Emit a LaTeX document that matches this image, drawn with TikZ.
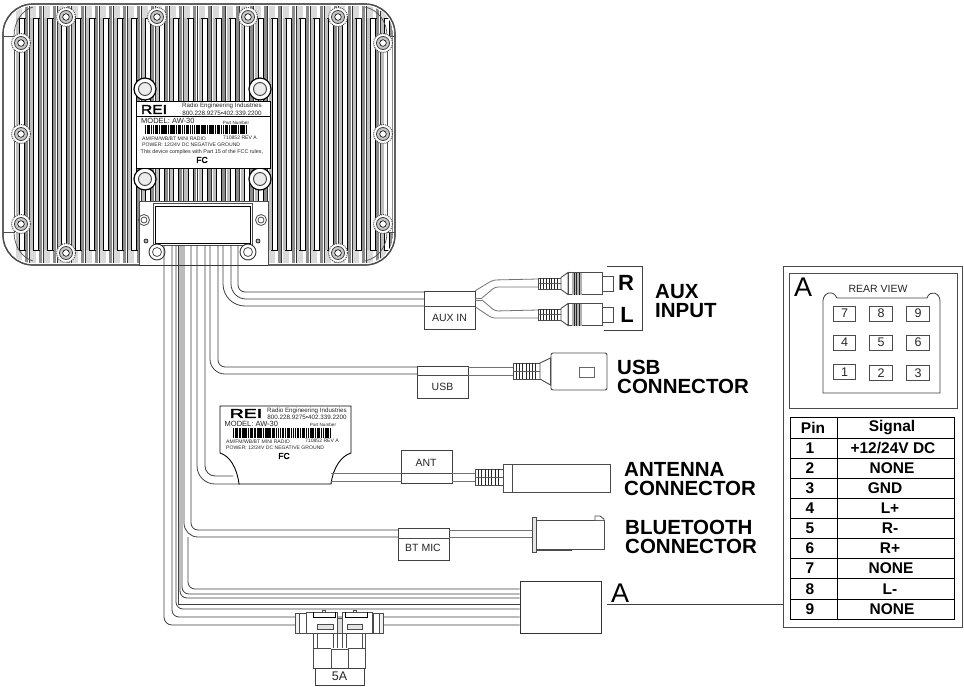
\documentclass[tikz,border=0pt]{standalone}
\usepackage{fontspec}
\setmainfont{Liberation Sans}
\newfontfamily\logofont[FakeBold=2.5]{Liberation Sans}
\newcommand{\pxs}[1]{\fontsize{#1}{#1}\selectfont}
\newcommand{\bars}[5]{% x0 y0 width height count
  \foreach \i in {0,...,#5}{
    \pgfmathsetmacro{\bx}{#1+#3*\i/(#5+1)}
    \pgfmathsetmacro{\bw}{#3/(#5+1)*(0.35+0.2*mod(\i*7,4))}
    \fill[black] (\bx,#2) rectangle (\bx+\bw,#2+#4);
  }}
\newcommand{\relief}[4]{% x0 x1 y0 y1
  \draw[conn,fill=white] (#1,#3) rectangle (#2,#4);
  \foreach \t in {0.12,0.24,0.36,0.48,0.6,0.72,0.84}{
    \draw[black!85,line width=0.9pt] ({#1+(#2-#1)*\t},#3) -- ({#1+(#2-#1)*\t},#4);}
  \draw[gray!70!black,line width=0.6pt] (#1,{(#3+#4)/2}) -- (#2,{(#3+#4)/2});}
\newcommand{\rcaplug}[1]{%
  \relief{538}{561}{#1-5.5}{#1+5.5}
  \draw[conn,fill=white] (561,#1-6) -- (568,#1-11) -- (568,#1+11) -- (561,#1+6) -- cycle;
  \draw[conn,fill=white] (568,#1-11) rectangle (602,#1+11);
  \fill[gray!60] (572,#1-11) rectangle (582,#1+11);
  \foreach \q in {574,576.5,579}{\draw[black!85,line width=0.9pt] (\q,#1-11) -- (\q,#1+11);}
  \draw[conn,fill=white] (602,#1-7.5) rectangle (613,#1+7.5);}
\newcommand{\bossS}[2]{%
  \draw[gray!60!black,line width=1pt,densely dotted,fill=white] (#1,#2) circle[radius=9.5pt];
  \draw[black!75,line width=0.8pt,fill=gray!45] (#1,#2) circle[radius=6.5pt];
  \draw[black,line width=0.6pt,fill=white] (#1,#2) circle[radius=3.3pt];}
\newcommand{\bossL}[2]{%
  \draw[black,line width=1.2pt,fill=white] (#1,#2) circle[radius=11pt];
  \draw[black!75,line width=0.9pt,fill=gray!15] (#1,#2) circle[radius=6.5pt];}
\tikzset{
  wire/.style={draw=black!75,line width=0.8pt},
  greywire/.style={draw=black!55,line width=0.8pt,rounded corners=3pt},
  conn/.style={draw=black!70,line width=0.9pt},
  tagbox/.style={draw=black!75,line width=0.8pt,fill=white,inner sep=0pt,minimum width=51pt},
  tagtext/.style={inner sep=0pt,text=black!85,font=\pxs{10.5}},
  head/.style={inner sep=0pt,font=\bfseries\fontsize{20.5}{18.5}\selectfont,align=left,anchor=north west},
  cell/.style={inner sep=0pt,font=\bfseries\pxs{15.5}},
  pinbox/.style={draw=black!70,line width=0.8pt,minimum width=22.5pt,minimum height=15pt,inner sep=0pt,font=\pxs{12.5},text=black!85},
  lbl/.style={inner sep=0pt,text=black!85},
}
\begin{document}
\begin{tikzpicture}[x=1pt,y=-1pt]
\useasboundingbox (0,0) rectangle (964,686);
\fill[white] (0,0) rectangle (964,686);

% radio body
\draw[black!70,line width=1.2pt,fill=white,rounded corners=30pt] (3,4) rectangle (395,265);
\begin{scope}
\clip[rounded corners=28pt] (5,6) rectangle (393,263);
\foreach \i in {0,...,26}{
  \pgfmathsetmacro{\fx}{16+14.04*\i}
  \fill[gray!50] (\fx,6) rectangle (\fx+3.5,263);
  \fill[gray!30] (\fx,6) rectangle (\fx+6,18);
  \fill[gray!30] (\fx,250) rectangle (\fx+6,263);
  \fill[black!45] (\fx+9,6) rectangle (\fx+12,263);
  \draw[black,line width=0.9pt] (\fx+3.5,18) -- (\fx+3.5,250);
  \draw[black,line width=0.9pt] (\fx+8.5,18) -- (\fx+8.5,250);
  \draw[black,line width=0.7pt] (\fx+2.5,18) -- (\fx+9.5,18);
  \draw[black,line width=0.7pt] (\fx+2.5,250) -- (\fx+9.5,250);
  \draw[black!80,line width=0.5pt] (\fx+13,6) -- (\fx+13,263);
}
\end{scope}
\fill[white] (6,36) rectangle (15,232);
\fill[white] (384,36) rectangle (392,232);
\draw[black!70,line width=0.7pt] (14,36) -- (14,232) (387,36) -- (387,232);
\draw[black!70,line width=0.7pt] (3,36) -- (15,36) (3,232) -- (15,232) (385,36) -- (395,36) (385,232) -- (395,232);
\draw[black!70,line width=0.7pt] (14,36) .. controls (14,22) and (22,10) .. (33,7);
\draw[black!70,line width=0.7pt] (14,232) .. controls (14,246) and (22,258) .. (33,261);
\draw[black!70,line width=0.7pt] (387,36) .. controls (387,22) and (379,10) .. (365,7);
\draw[black!70,line width=0.7pt] (387,232) .. controls (387,246) and (379,258) .. (365,261);
\draw[black!70,line width=1.2pt,rounded corners=30pt] (3,4) rectangle (395,265);

\foreach \x in {66,157,248,338}{\bossS{\x}{17}}
\foreach \x in {66,338}{\bossS{\x}{253}}
\foreach \x in {21,383}{\foreach \y in {43,134,224}{\bossS{\x}{\y}}}

% connector plate
\fill[white] (139,201) rectangle (268,266);
\draw[black!70,line width=0.8pt] (139,201) -- (268,201) (139,201) -- (139,265) (268,201) -- (268,265);
\draw[black!80,line width=1pt] (139,265) -- (268,265);
\draw[black!70,line width=0.8pt,fill=white] (153,203) rectangle (252,245);
\draw[black,line width=0.9pt] (155,206) rectangle (250,243);
\foreach \x in {144,261}{\draw[black!70,line width=0.8pt] (\x,220) circle[radius=5.5pt] (\x,220) circle[radius=3pt];}
\foreach \x in {146,258}{\draw[black,fill=gray!60,line width=0.6pt] (\x,241) circle[radius=2pt];}

% mounting bosses and label 1
\foreach \x in {145,260}{\foreach \y in {89,179}{\bossL{\x}{\y}}}
\foreach \x in {157,248}{
  \draw[black!80,line width=0.9pt,fill=white] (\x,252) circle[radius=8pt];
  \draw[black!70,line width=0.8pt] (\x,252) circle[radius=4.5pt];}

% boxes and text of label 1
\node[draw=black,line width=0.9pt,fill=white,minimum width=134pt,minimum height=67pt,inner sep=0pt] (topLabel) at (203,134.5) {};
\draw[black,line width=0.6pt] (136,116) -- (270,116);
\node[lbl,text=black,font=\logofont\pxs{13},xscale=1.2] (logoA) at (154,109.5) {REI};
\node[lbl,font=\pxs{6.2}] (nameA) at (222,106) {Radio Engineering Industries};
\node[lbl,font=\pxs{6.3}] (telA) at (222,113) {800.228.9275•402.339.2200};
\node[lbl,font=\pxs{7.5},anchor=west] (modelA) at (141,121) {MODEL: AW-30};
\node[lbl,font=\pxs{4.6}] (partA) at (236,122.5) {Part Number};
\bars{145}{125}{103}{9}{52}
\node[lbl,font=\pxs{5.1},anchor=west] (amA) at (142,138.5) {AM/FM/WB/BT MINI RADIO};
\node[lbl,font=\pxs{5.1}] (revA) at (240,138) {710852 REV A};
\node[lbl,font=\pxs{5.1},anchor=west] (powA) at (142,144.5) {POWER: 12/24V DC NEGATIVE GROUND};
\node[lbl,font=\pxs{5.4},anchor=west] (fccA) at (140.5,152) {This device complies with Part 15 of the FCC rules,};
\node[lbl,text=black,font=\logofont\pxs{8.5}] (fcA) at (202,160) {FC};

% wires: aux
\foreach \x/\y/\r in {238/292/7,231/299/15,223/306/22}{
  \draw[wire,rounded corners=\r pt] (\x,245) |- (424,\y);}
% wires: usb
\draw[wire,rounded corners=7pt] (218,245) |- (417,367);
\draw[wire,rounded corners=15pt] (210,245) |- (417,374);
% wires: antenna
\draw[wire,rounded corners=10pt] (205,245) |- (233,476);
\draw[wire,rounded corners=18pt] (197,245) |- (240,484);
% wires: bluetooth
\draw[wire,rounded corners=7pt] (191,245) |- (398,530);
\draw[wire,rounded corners=14pt] (184,245) |- (398,537);

% tag boxes
\node[tagbox,minimum height=38pt] (auxBox) at (449.5,310) {};
\draw[black!70,line width=0.8pt] (auxBox.west |- 0,306.5) -- (auxBox.east |- 0,306.5);
\node[tagtext] (auxTxt) at (449.5,317.5) {AUX IN};
\node[tagbox,minimum height=32pt] (usbBox) at (442.5,382) {};
\draw[black!70,line width=0.8pt] (usbBox.west |- 0,375.5) -- (usbBox.east |- 0,375.5);
\node[tagtext] (usbTxt) at (442.5,386.5) {USB};
\node[tagbox,minimum height=33pt] (antBox) at (426.5,466.5) {};
\draw[black!70,line width=0.8pt] (antBox.west |- 0,473) -- (antBox.east |- 0,473);
\node[tagtext] (antTxt) at (426,463) {ANT};
\node[tagbox,minimum height=32pt] (btBox) at (423.5,544) {};
\draw[black!70,line width=0.8pt] (btBox.west |- 0,538) -- (btBox.east |- 0,538);
\node[tagtext] (btTxt) at (423,548) {BT MIC};

% aux Y split
\draw[greywire] (auxBox.north east) -- (493,280) -- (538,279);
\draw[greywire] (482,298) -- (495,287) -- (538,287);
\draw[greywire] (482,300) -- (495,311) -- (538,310);
\draw[greywire] (auxBox.east |- 0,307) -- (492,318) -- (538,318);
\draw[greywire] (auxBox.east |- 0,298) -- (482,298) (auxBox.east |- 0,300) -- (482,300);
\rcaplug{283.5}
\rcaplug{314.5}
\coordinate (brA) at (607,266);\coordinate (brB) at (642,266);\coordinate (brC) at (642,330);\coordinate (brD) at (604,330);
\draw[black!75,line width=0.8pt] (brA) -- (brB) -- (brC) -- (brD);
\node[inner sep=0pt,font=\bfseries\pxs{22}] (rTxt) at (626,283) {R};
\node[inner sep=0pt,font=\bfseries\pxs{22}] (lTxt) at (627,315) {L};
\node[head] (auxHead) at (655,284.5) {AUX\\INPUT};

% usb connector
\draw[greywire] (usbBox.east |- 0,367) -- (513,367);
\draw[greywire] (usbBox.east |- 0,375) -- (513,375);
\relief{513}{540}{363}{379}
\node[conn,fill=white,rounded corners=2pt,minimum width=56pt,minimum height=37pt,inner sep=0pt] (usbPlug) at (579,371.5) {};
\draw[conn,fill=white] (540,363) -- (usbPlug.west |- 0,358) -- (usbPlug.west |- 0,385) -- (540,379) -- cycle;
\node[draw=black!60,line width=0.8pt,minimum width=15pt,minimum height=10pt,inner sep=0pt] (usbSlot) at (586.5,372) {};
\node[head] (usbHead) at (617,360) {USB\\CONNECTOR};

% label 2 (antenna module)
\draw[black,line width=0.9pt,fill=white] (220,406) -- (351,406) -- (351,453)
  .. controls (341,456) and (333,468) .. (331,484) -- (239,484)
  .. controls (237,468) and (230,456) .. (220,453) -- cycle;
\node[lbl,text=black,font=\logofont\pxs{13},xscale=1.5] (logoB) at (246,413.5) {REI};
\node[lbl,font=\pxs{6.2}] (nameB) at (307,411) {Radio Engineering Industries};
\node[lbl,font=\pxs{6.3}] (telB) at (307,417) {800.228.9275•402.339.2200};
\node[lbl,font=\pxs{7.5},anchor=west] (modelB) at (224.5,424) {MODEL: AW-30};
\node[lbl,font=\pxs{4.6}] (partB) at (323,425) {Part Number};
\bars{233}{428}{99}{10}{52}
\node[lbl,font=\pxs{5.1},anchor=west] (amB) at (226,441.5) {AM/FM/WB/BT MINI RADIO};
\node[lbl,font=\pxs{5.1}] (revB) at (322,441) {710852 REV A};
\node[lbl,font=\pxs{5.1},anchor=west] (powB) at (226,447.5) {POWER: 12/24V DC NEGATIVE GROUND};
\node[lbl,text=black,font=\logofont\pxs{8.5}] (fcB) at (284,456) {FC};

% antenna connector
\draw[greywire] (331,473) -- (antBox.west |- 0,473);
\draw[greywire] (331,481) -- (antBox.west |- 0,481);
\draw[greywire] (antBox.east |- 0,473) -- (475,473);
\draw[greywire] (antBox.east |- 0,481) -- (475,481);
\relief{475}{503}{469}{485}
\node[conn,fill=white,minimum width=107pt,minimum height=28pt,inner sep=0pt] (antPlug) at (556.5,478) {};
\draw[conn] (512,464) -- (512,492);
\node[head] (antHead) at (624,462.5) {ANTENNA\\CONNECTOR};

% bluetooth connector
\draw[greywire] (btBox.east |- 0,530) -- (532,530);
\draw[greywire] (btBox.east |- 0,537) -- (532,537);
\node[conn,fill=gray!20,minimum width=4pt,minimum height=35pt,inner sep=0pt] (btFlange) at (534,534.5) {};
\node[conn,fill=white,minimum width=68pt,minimum height=29pt,inner sep=0pt] (btPlug) at (570,534.5) {};
\draw[conn,fill=white] (595,520) -- (595,516) -- (600,516) -- (604,519) -- (604,520);
\draw[black!70,line width=1.4pt] (536,550) -- (572,550);
\node[head] (btHead) at (625,520) {BLUETOOTH\\CONNECTOR};

% main harness
\node[tagbox,minimum width=81pt,minimum height=52pt,draw=black!80] (boxA) at (560.5,607) {};
\draw[wire,rounded corners=7pt] (188,537) |- (boxA.west |- 0,589);
\foreach \x/\y/\r in {182/594/7,180/598/7,176/609/7,172/617/7,164/625/8}{
  \draw[wire,rounded corners=\r pt] (\x,245) |- (boxA.west |- 0,\y);}
\draw[wire] (178,245) |- (boxA.west |- 0,604);

% fuse holder
\draw[conn,fill=gray!10] (295,613) rectangle (306,633);
\draw[conn,fill=white] (299,613) rectangle (306,633);
\draw[conn,fill=gray!10] (373,613) rectangle (383,633);
\draw[conn,fill=white] (373,613) rectangle (379,633);
\draw[conn,fill=white] (313,633) -- (313,668) -- (331,668) -- (331,649) -- (348,649) -- (348,668) -- (365,668) -- (365,633) -- cycle;
\draw[conn] (313,648) -- (331,648) (348,648) -- (365,648);
\draw[conn] (317,633) -- (317,648) (333,633) -- (333,648) (337,633) -- (337,648) (342,633) -- (342,648) (346,633) -- (346,648) (362,633) -- (362,648);
\draw[conn,fill=white] (306,612) rectangle (337,633);
\draw[conn,fill=white] (342,612) rectangle (372,633);
\draw[conn,fill=gray!25] (337,618) rectangle (342,633);
\draw[black,line width=1pt] (313,612) -- (313,617.5) -- (335,617.5) -- (335,612);
\draw[black,line width=1pt] (345,612) -- (345,617.5) -- (367,617.5) -- (367,612);
\draw[conn,fill=white] (322,610) rectangle (325,612);
\draw[conn,fill=white] (353,610) rectangle (356,612);
\draw[conn,fill=gray!20] (317,624) rectangle (333,629);
\draw[conn,fill=gray!20] (347,624) rectangle (362,629);
\node[draw=black!75,line width=0.8pt,minimum width=49pt,minimum height=17pt,inner sep=0pt,font=\pxs{12.5},text=black!85] (fuseBox) at (339.5,676.5) {5A};

% A leader and pin panel
\node[inner sep=0pt,font=\pxs{27}] (aTxt) at (620,593) {A};
\node[draw=black!70,line width=0.9pt,minimum width=179pt,minimum height=361pt,inner sep=0pt] (panel) at (872.5,447) {};
\coordinate (leadA) at (607,604);
\draw[black!75,line width=0.8pt] (leadA) -- (panel.west |- leadA);
\node[draw=black!70,line width=0.9pt,minimum width=168pt,minimum height=135pt,inner sep=0pt] (rearBox) at (873,340.5) {};
\node[inner sep=0pt,font=\pxs{27}] (aTxt2) at (803,287) {A};
\node[lbl,font=\pxs{10.5}] (rearTxt) at (878,289) {REAR VIEW};
\draw[black!75,line width=0.8pt] (823,393) -- (823,301) .. controls (823,293) and (833,289) .. (837,298) -- (927,298) .. controls (930,289) and (940,293) .. (940,301) -- (940,393) -- cycle;
\foreach \n/\x/\y in {7/844.5/313.5,8/881/313.5,9/918/313.5,4/844.5/342.5,5/881/342.5,6/918/342.5,1/844.5/372,2/881/373,3/918/373}{
  \node[pinbox] (pin\n) at (\x,\y) {\n};}

% table
\draw[black,line width=0.9pt] (790,417) rectangle (954,619);
\draw[black,line width=0.9pt] (837,417) -- (837,619);
\foreach \y in {438,458.1,478.2,498.3,518.4,538.6,558.7,578.8,598.9}{
  \draw[black,line width=0.8pt] (790,\y) -- (954,\y);}
\node[cell] (hPin) at (813,428) {Pin};
\node[cell] (hSig) at (892,428) {Signal};
\foreach \n/\s/\cx in {1/+12\slash 24V DC/893,2/NONE/892,3/GND/885,4/L+/890,5/R-/890,6/R+/890,7/NONE/891,8/L-/890,9/NONE/892}{
  \pgfmathsetmacro{\ry}{448+20.1*(\n-1)}
  \node[cell] (rowP\n) at (810,\ry) {\n};
  \node[cell] (rowS\n) at (\cx,\ry) {\s};
}
\end{tikzpicture}
\end{document}
